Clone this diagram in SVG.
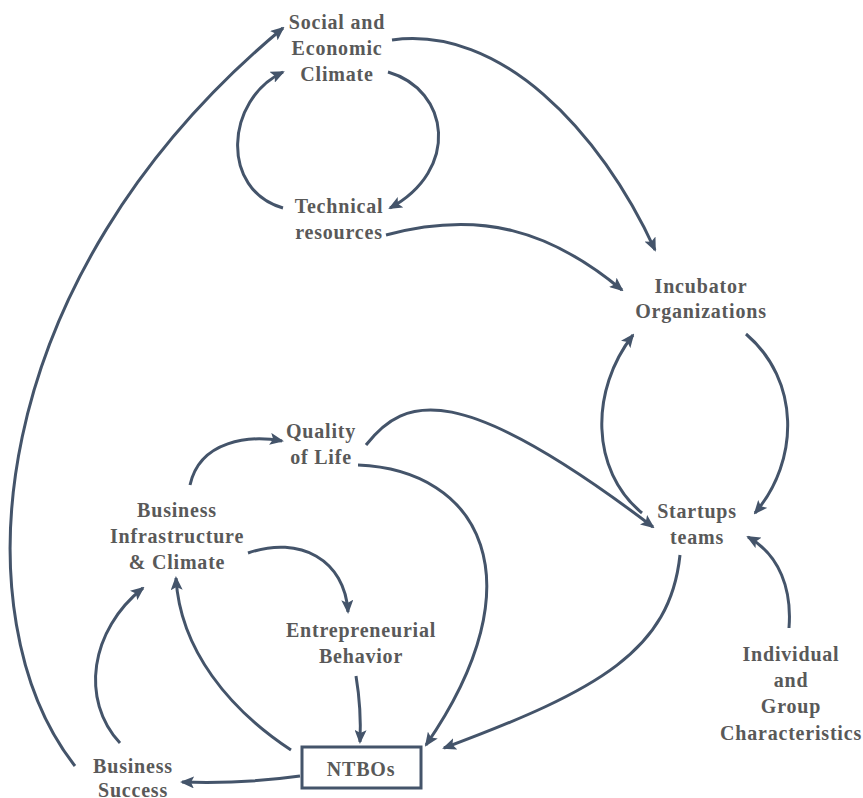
<svg xmlns="http://www.w3.org/2000/svg" width="863" height="798" viewBox="0 0 863 798">
  <style>
    .lbl { font-family: "Liberation Serif", "Times New Roman", serif; font-weight: bold; font-size: 20px; letter-spacing: 0.8px; fill: #595959; text-anchor: middle; }
    .edge { fill: none; stroke: #44546A; stroke-width: 3; marker-end: url(#arrow); }
    .box { fill: #ffffff; stroke: #44546A; stroke-width: 3; }
  </style>
  <defs>
    <marker id="arrow" markerUnits="userSpaceOnUse" markerWidth="14" markerHeight="12" viewBox="0 0 14 12" refX="12" refY="6" orient="auto">
      <path d="M0,0 L14,6 L0,12 L3,6 Z" fill="#44546A"/>
    </marker>
  </defs>
  <rect width="863" height="798" fill="#ffffff"/>

  <g id="connectors">
    <path class="edge" d="M75,766 C -40,620 -20,280 283,28"/>
    <path class="edge" d="M392,40 C 500,25 600,130 655,250"/>
    <path class="edge" d="M388,72 C 450,90 460,170 390,208"/>
    <path class="edge" d="M283,208 C 220,190 225,100 283,72"/>
    <path class="edge" d="M386,235 C 480,210 550,230 622,290"/>
    <path class="edge" d="M642,513 C 590,470 590,390 633,335"/>
    <path class="edge" d="M746,334 C 800,380 800,460 755,513"/>
    <path class="edge" d="M366,445 C 405,395 460,380 653,527"/>
    <path class="edge" d="M358,465 C 480,470 540,580 426,745"/>
    <path class="edge" d="M190,485 C 200,440 250,435 282,441"/>
    <path class="edge" d="M248,553 C 300,535 345,560 348,612"/>
    <path class="edge" d="M356,676 C 360,700 361,720 360,742"/>
    <path class="edge" d="M291,750 C 230,710 180,650 176,578"/>
    <path class="edge" d="M120,743 C 80,700 90,630 143,588"/>
    <path class="edge" d="M300,776 C 250,783 210,783 182,782"/>
    <path class="edge" d="M680,555 C 670,650 600,690 444,748"/>
    <path class="edge" d="M789,628 C 792,590 780,555 748,537"/>
  </g>

  <g id="social-economic-climate">
    <text class="lbl" x="337" y="29">Social and</text>
    <text class="lbl" x="337" y="55">Economic</text>
    <text class="lbl" x="337" y="81">Climate</text>
  </g>
  <g id="technical-resources">
    <text class="lbl" x="339" y="213">Technical</text>
    <text class="lbl" x="339" y="239">resources</text>
  </g>
  <g id="incubator-organizations">
    <text class="lbl" x="701" y="293">Incubator</text>
    <text class="lbl" x="701" y="318">Organizations</text>
  </g>
  <g id="quality-of-life">
    <text class="lbl" x="321" y="438">Quality</text>
    <text class="lbl" x="321" y="464">of Life</text>
  </g>
  <g id="business-infrastructure">
    <text class="lbl" x="177" y="517">Business</text>
    <text class="lbl" x="177" y="543">Infrastructure</text>
    <text class="lbl" x="177" y="569">&amp; Climate</text>
  </g>
  <g id="startups-teams">
    <text class="lbl" x="697" y="518">Startups</text>
    <text class="lbl" x="697" y="544">teams</text>
  </g>
  <g id="entrepreneurial-behavior">
    <text class="lbl" x="361" y="637">Entrepreneurial</text>
    <text class="lbl" x="361" y="663">Behavior</text>
  </g>
  <g id="individual-group">
    <text class="lbl" x="791" y="661">Individual</text>
    <text class="lbl" x="791" y="687">and</text>
    <text class="lbl" x="791" y="713">Group</text>
    <text class="lbl" x="791" y="740">Characteristics</text>
  </g>
  <g id="ntbos">
    <rect class="box" x="302" y="747" width="119" height="41"/>
    <text class="lbl" x="361" y="776">NTBOs</text>
  </g>
  <g id="business-success">
    <text class="lbl" x="133" y="773">Business</text>
    <text class="lbl" x="133" y="797">Success</text>
  </g>
</svg>
